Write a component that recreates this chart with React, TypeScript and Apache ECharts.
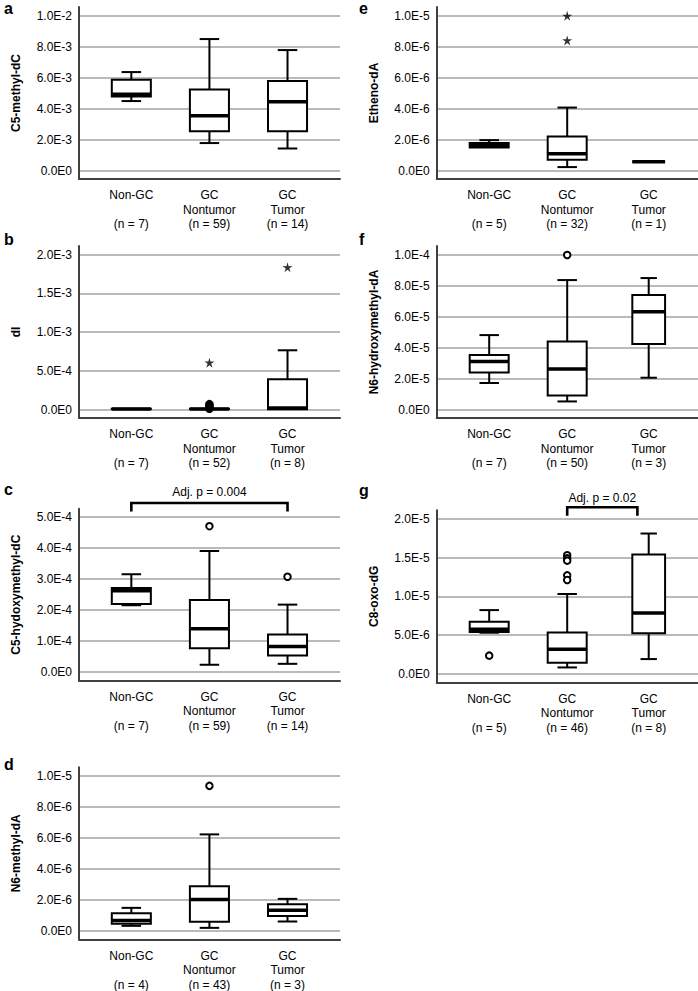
import React, { useEffect, useRef } from "react";
import * as echarts from "echarts";

// ---------- data ----------
const groups = ["Non-GC", "GC\nNontumor", "GC\nTumor"];

// a: C5-methyl-dC  [min, q1, median, q3, max]
const aTitle = "C5-methyl-dC";
const aN = [7, 59, 14];
const aBoxes = [
  [4.48e-3, 4.78e-3, 4.92e-3, 5.85e-3, 6.35e-3],
  [1.77e-3, 2.54e-3, 3.53e-3, 5.23e-3, 8.48e-3],
  [1.42e-3, 2.54e-3, 4.43e-3, 5.77e-3, 7.77e-3],
];
const aOutliers: number[][] = [[], [], []];
const aExtremes: number[][] = [[], [], []];
const aTicks = [0, 2e-3, 4e-3, 6e-3, 8e-3, 1e-2];

// b: dI
const bTitle = "dI";
const bN = [7, 52, 8];
const bBoxes = [
  [0.3e-5, 0.5e-5, 0.7e-5, 0.9e-5, 1.2e-5],
  [0.2e-5, 0.5e-5, 0.8e-5, 1.1e-5, 1.6e-5],
  [0.0, 0.3e-5, 2.0e-5, 3.9e-4, 7.64e-4],
];
const bOutliers: number[][] = [[], [1.0e-5, 2.5e-5, 4.0e-5, 5.5e-5, 7.0e-5], []];
const bExtremes: number[][] = [[], [6.04e-4], [1.835e-3]];
const bTicks = [0, 5e-4, 1e-3, 1.5e-3, 2e-3];

// c: C5-hydoxymethyl-dC
const cTitle = "C5-hydoxymethyl-dC";
const cN = [7, 59, 14];
const cBoxes = [
  [2.16e-4, 2.2e-4, 2.63e-4, 2.72e-4, 3.16e-4],
  [0.24e-4, 0.77e-4, 1.4e-4, 2.33e-4, 3.91e-4],
  [0.27e-4, 0.54e-4, 0.83e-4, 1.22e-4, 2.18e-4],
];
const cOutliers: number[][] = [[], [4.71e-4], [3.08e-4]];
const cExtremes: number[][] = [[], [], []];
const cTicks = [0, 1e-4, 2e-4, 3e-4, 4e-4, 5e-4];
const cTest = { text: "Adj. p = 0.004", line: 5.46e-4, drop: 5.18e-4, label: 5.8e-4 };

// d: N6-methyl-dA
const dTitle = "N6-methyl-dA";
const dN = [4, 43, 3];
const dBoxes = [
  [0.32e-6, 0.45e-6, 0.67e-6, 1.14e-6, 1.48e-6],
  [0.19e-6, 0.58e-6, 2.02e-6, 2.88e-6, 6.22e-6],
  [0.6e-6, 0.95e-6, 1.33e-6, 1.72e-6, 2.06e-6],
];
const dOutliers: number[][] = [[], [9.35e-6], []];
const dExtremes: number[][] = [[], [], []];
const dTicks = [0, 2e-6, 4e-6, 6e-6, 8e-6, 1e-5];

// e: Etheno-dA
const eTitle = "Etheno-dA";
const eN = [5, 32, 1];
const eBoxes = [
  [1.45e-6, 1.48e-6, 1.62e-6, 1.78e-6, 1.96e-6],
  [0.22e-6, 0.69e-6, 1.08e-6, 2.19e-6, 4.06e-6],
  [0.56e-6, 0.56e-6, 0.56e-6, 0.56e-6, 0.56e-6],
];
const eOutliers: number[][] = [[], [], []];
const eExtremes: number[][] = [[], [9.98e-6, 8.39e-6], []];
const eTicks = [0, 2e-6, 4e-6, 6e-6, 8e-6, 1e-5];

// f: N6-hydroxymethyl-dA
const fTitle = "N6-hydroxymethyl-dA";
const fN = [7, 50, 3];
const fBoxes = [
  [1.71e-5, 2.38e-5, 3.09e-5, 3.52e-5, 4.8e-5],
  [0.52e-5, 0.91e-5, 2.62e-5, 4.39e-5, 8.35e-5],
  [2.05e-5, 4.22e-5, 6.31e-5, 7.39e-5, 8.48e-5],
];
const fOutliers: number[][] = [[], [9.97e-5], []];
const fExtremes: number[][] = [[], [], []];
const fTicks = [0, 2e-5, 4e-5, 6e-5, 8e-5, 1e-4];

// g: C8-oxo-dG
const gTitle = "C8-oxo-dG";
const gN = [5, 46, 8];
const gBoxes = [
  [5.3e-6, 5.4e-6, 5.75e-6, 6.71e-6, 8.22e-6],
  [0.82e-6, 1.43e-6, 3.16e-6, 5.32e-6, 10.3e-6],
  [1.9e-6, 5.24e-6, 7.84e-6, 15.4e-6, 18.1e-6],
];
const gOutliers: number[][] = [[2.34e-6], [15.3e-6, 14.9e-6, 14.6e-6, 12.7e-6, 12.1e-6], []];
const gExtremes: number[][] = [[], [], []];
const gTicks = [0, 5e-6, 1e-5, 1.5e-5, 2e-5];
const gTest = { text: "Adj. p = 0.02", line: 21.49e-6, drop: 20.4e-6, label: 22.72e-6 };

// ---------- layout ----------
const FONT = "'Liberation Sans', Arial, sans-serif";
const GRID_H = 172;
const COLS = [
  { left: 79, width: 261, xMin: 0.33, xMax: 3.672, pos: [1, 2, 3], half: [0.25, 0.25, 0.25], bracketX: [1, 3] },
  { left: 436.7, width: 261.3, xMin: 0.327, xMax: 3.677, pos: [1, 2, 3.045], half: [0.25, 0.25, 0.21], bracketX: [2, 2.9] },
];

type Panel = {
  letter: string; title: string; n: number[]; boxes: number[][]; outliers: number[][]; extremes: number[][];
  ticks: number[]; col: number; top: number; letterY: number; test?: { text: string; line: number; drop: number; label: number };
  hollow?: boolean;
};

const panels: Panel[] = [
  { letter: "a", title: aTitle, n: aN, boxes: aBoxes, outliers: aOutliers, extremes: aExtremes, ticks: aTicks, col: 0, top: 7, letterY: 8 },
  { letter: "b", title: bTitle, n: bN, boxes: bBoxes, outliers: bOutliers, extremes: bExtremes, ticks: bTicks, col: 0, top: 246, letterY: 239.5, hollow: true },
  { letter: "c", title: cTitle, n: cN, boxes: cBoxes, outliers: cOutliers, extremes: cExtremes, ticks: cTicks, col: 0, top: 508.7, letterY: 489.5, test: cTest },
  { letter: "d", title: dTitle, n: dN, boxes: dBoxes, outliers: dOutliers, extremes: dExtremes, ticks: dTicks, col: 0, top: 767.3, letterY: 764.5 },
  { letter: "e", title: eTitle, n: eN, boxes: eBoxes, outliers: eOutliers, extremes: eExtremes, ticks: eTicks, col: 1, top: 7, letterY: 8 },
  { letter: "f", title: fTitle, n: fN, boxes: fBoxes, outliers: fOutliers, extremes: fExtremes, ticks: fTicks, col: 1, top: 246, letterY: 239.5 },
  { letter: "g", title: gTitle, n: gN, boxes: gBoxes, outliers: gOutliers, extremes: gExtremes, ticks: gTicks, col: 1, top: 510.3, letterY: 490.5, test: gTest },
];

function starSymbol() {
  const pts: string[] = [];
  for (let i = 0; i < 10; i++) {
    const r = i % 2 === 0 ? 50 : 18;
    const a = -Math.PI / 2 + (i * Math.PI) / 5;
    pts.push(`${(50 + r * Math.cos(a)).toFixed(2)} ${(50 + r * Math.sin(a)).toFixed(2)}`);
  }
  return "path://M" + pts.join(" L") + " Z";
}

function fmtExp(v: number) {
  if (v === 0) return "0.0E0";
  return v.toExponential(1).replace("e", "E").replace("+", "");
}

function renderBox(params: any, api: any) {
  const x = api.value(0);
  const hw = api.value(6);
  const v = [1, 2, 3, 4, 5].map((i) => api.value(i));
  const cx = api.coord([x, v[0]])[0];
  const xl = api.coord([x - hw, v[0]])[0];
  const xr = api.coord([x + hw, v[0]])[0];
  const y = v.map((val: number) => api.coord([x, val])[1]);
  const cap = (xr - xl) / 4;
  const stroke = "#000";
  const line = (x1: number, y1: number, x2: number, y2: number, w: number) => ({
    type: "line",
    shape: { x1, y1, x2, y2 },
    style: { stroke, lineWidth: w, fill: null },
  });
  const children: any[] = [];
  if (y[4] < y[3] - 0.5) children.push(line(cx, y[3], cx, y[4], 2), line(cx - cap, y[4], cx + cap, y[4], 2));
  if (y[0] > y[1] + 0.5) children.push(line(cx, y[1], cx, y[0], 2), line(cx - cap, y[0], cx + cap, y[0], 2));
  children.push({
    type: "rect",
    shape: { x: xl, y: y[3], width: xr - xl, height: Math.max(0, y[1] - y[3]) },
    style: { fill: "#fff", stroke, lineWidth: 2 },
  });
  children.push(line(xl, y[2], xr, y[2], 3.5));
  return { type: "group", children };
}

function buildOption() {
  const grid: any[] = [];
  const xAxis: any[] = [];
  const yAxis: any[] = [];
  const series: any[] = [];
  const graphic: any[] = [];
  const star = starSymbol();

  panels.forEach((p, i) => {
    const col = COLS[p.col];
    const top = p.ticks[p.ticks.length - 1];
    const pad = 8.5 / 155;
    grid.push({ left: col.left, top: p.top, width: col.width, height: GRID_H, outerBoundsMode: "none", containLabel: false });
    const labels = p.n.map((n, j) => {
      const lines = groups[j].split("\n");
      return (lines.length === 1 ? lines[0] + "\n" : lines.join("\n")) + `\n(n = ${n})`;
    });
    xAxis.push({
      gridIndex: i,
      type: "value",
      min: col.xMin,
      max: col.xMax,
      axisLine: { show: true, onZero: false, lineStyle: { color: "#404040", width: 2 } },
      axisTick: { show: false },
      splitLine: { show: false },
      axisLabel: {
        customValues: col.pos,
        formatter: (v: number) => {
          let best = 0;
          col.pos.forEach((q, k) => {
            if (Math.abs(q - v) < Math.abs(col.pos[best] - v)) best = k;
          });
          return labels[best];
        },
        margin: 9,
        fontSize: 12,
        lineHeight: 14.5,
        color: "#000",
        fontFamily: FONT,
      },
    });
    yAxis.push({
      gridIndex: i,
      type: "value",
      min: -top * pad,
      max: top * (1 + pad),
      name: p.title,
      nameLocation: "middle",
      nameGap: 57,
      nameMoveOverlap: false,
      nameTextStyle: { fontWeight: "bold", fontSize: 12, color: "#000", fontFamily: FONT },
      axisLine: { show: true, onZero: false, lineStyle: { color: "#404040", width: 2 } },
      axisTick: { show: false, customValues: p.ticks },
      axisLabel: { customValues: p.ticks, formatter: fmtExp, margin: 7, fontSize: 12, color: "#000", fontFamily: FONT },
      splitLine: { show: true, lineStyle: { color: "#a3a3a3", width: 1.5 } },
    });
    series.push({
      type: "custom",
      xAxisIndex: i,
      yAxisIndex: i,
      renderItem: renderBox,
      encode: { x: 0, y: [1, 2, 3, 4, 5] },
      data: p.boxes.map((b, j) => [col.pos[j], ...b, col.half[j]]),
      z: 3,
      silent: true,
    });
    const outData: number[][] = [];
    p.outliers.forEach((arr, j) => arr.forEach((v) => outData.push([col.pos[j], v])));
    if (outData.length) {
      series.push({
        type: "scatter",
        xAxisIndex: i,
        yAxisIndex: i,
        data: outData,
        symbol: "circle",
        symbolSize: 6.5,
        itemStyle: { color: p.hollow ? "rgba(0,0,0,0)" : "#fff", borderColor: "#000", borderWidth: 2, opacity: 1 },
        z: 4,
        silent: true,
      });
    }
    const extData: number[][] = [];
    p.extremes.forEach((arr, j) => arr.forEach((v) => extData.push([col.pos[j], v])));
    if (extData.length) {
      series.push({
        type: "scatter",
        xAxisIndex: i,
        yAxisIndex: i,
        data: extData,
        symbol: star,
        symbolSize: 10,
        itemStyle: { color: "#000" },
        z: 4,
        silent: true,
      });
    }
    if (p.test) {
      const t = p.test;
      series.push({
        type: "custom",
        xAxisIndex: i,
        yAxisIndex: i,
        clip: false,
        renderItem: (params: any, api: any) => {
          const x1 = col.bracketX[0];
          const x2 = col.bracketX[1];
          const a = api.coord([x1, t.line]);
          const b = api.coord([x2, t.line]);
          const d = api.coord([x1, t.drop]);
          const c = api.coord([(x1 + x2) / 2, t.label]);
          return {
            type: "group",
            children: [
              {
                type: "polyline",
                shape: { points: [[a[0], d[1]], [a[0], a[1]], [b[0], b[1]], [b[0], d[1]]] },
                style: { stroke: "#000", lineWidth: 2.6, fill: null },
              },
              {
                type: "text",
                style: { text: t.text, x: c[0], y: c[1], align: "center", verticalAlign: "middle", fill: "#000", font: `12px ${FONT}` },
              },
            ],
          };
        },
        data: [[col.bracketX[0], t.line]],
        encode: { x: 0, y: 1 },
        z: 5,
        silent: true,
      });
    }
    graphic.push({
      type: "text",
      x: p.col === 0 ? 4 : 359,
      y: p.letterY,
      style: { text: p.letter, font: `bold 16px ${FONT}`, fill: "#000", verticalAlign: "middle" },
    });
  });

  return {
    animation: false,
    backgroundColor: "#fff",
    textStyle: { fontFamily: FONT },
    grid,
    xAxis,
    yAxis,
    series,
    graphic,
  };
}

export default function App() {
  const ref = useRef<HTMLDivElement>(null);
  useEffect(() => {
    const chart = echarts.init(ref.current!, null, { renderer: "svg" });
    chart.setOption(buildOption() as any);
    return () => chart.dispose();
  }, []);
  return <div ref={ref} style={{ position: "absolute", left: 0, top: 0, width: 698, height: 991, background: "#fff" }} />;
}
